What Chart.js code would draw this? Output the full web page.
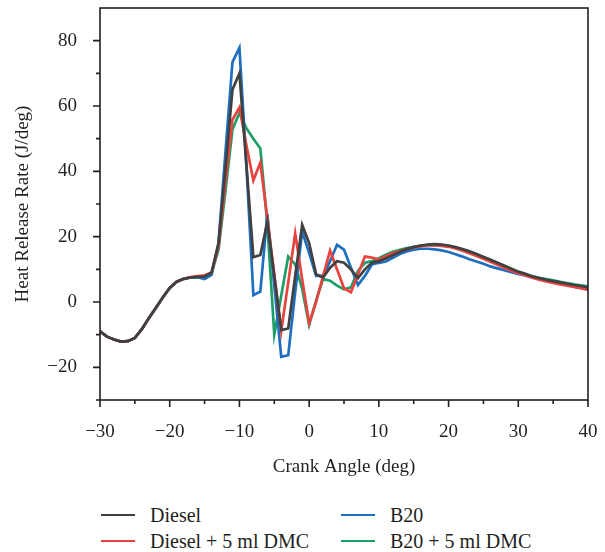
<!DOCTYPE html>
<html>
<head>
<meta charset="utf-8">
<script src="https://cdn.jsdelivr.net/npm/chart.js@4.4.0/dist/chart.umd.min.js"></script>
<style>
  body { margin: 0; background: #fff; }
  #wrap { position: relative; width: 605px; height: 552px; }
  #chart { position: absolute; left: 0; top: 0; }
  #legend {
    position: absolute; left: 101px; top: 502px;
    display: grid; grid-template-columns: 240px auto; grid-auto-rows: 26px;
    font: 20px "Liberation Serif", serif; color: #231f20;
  }
  .item { display: flex; align-items: center; white-space: nowrap; }
  .swatch { display: inline-block; width: 34px; height: 2px; margin-right: 15px; }
</style>
</head>
<body>
<div id="wrap">
  <canvas id="chart" width="605" height="490"></canvas>
  <div id="legend"></div>
</div>
<script>
const angles = [-30, -29, -28, -27, -26, -25, -24, -23, -22, -21, -20, -19, -18, -17, -16, -15, -14,
  -13, -12, -11, -10, -9, -8, -7, -6, -5, -4, -3, -2, -1, 0, 1, 2, 3, 4, 5, 6, 7, 8, 9, 10,
  11, 12, 13, 14, 15, 16, 17, 18, 19, 20, 21, 22, 23, 24, 25, 26, 27, 28, 29, 30,
  31, 32, 33, 34, 35, 36, 37, 38, 39, 40];

const diesel = [-9, -10.6, -11.5, -12.1, -12, -11, -8.3, -5, -1.8, 1.4, 4.3, 6.2, 7.1, 7.5, 7.7, 7.8, 9,
  18, 41, 65, 70, 42, 13.7, 14.4, 24.5, 8, -8.6, -8.1, 8, 23.6, 18, 8.5, 7.5, 10.5, 12.5, 12, 10, 7.3, 10, 12, 12.5,
  13.3, 14.3, 15.3, 16.2, 16.8, 17.3, 17.6, 17.7, 17.6, 17.3, 16.8, 16.2, 15.5, 14.7, 13.8, 12.9, 12, 11.1, 10.2, 9.3,
  8.6, 7.9, 7.3, 6.8, 6.4, 6, 5.6, 5.2, 4.9, 4.5];

const dieselDmc = [-9, -10.6, -11.5, -12.1, -12, -11, -8.3, -5, -1.8, 1.4, 4.3, 6.2, 7.1, 7.6, 7.9, 8.2, 9,
  17, 37, 55.8, 59.6, 48, 37.2, 42.7, 25.6, 8.5, -8.8, 6, 21, 7, -6.5, 0, 8, 15.7, 10, 4.2, 3, 8.5, 13.9, 13.6, 13,
  14, 15, 15.6, 16.2, 16.7, 17.1, 17.3, 17.4, 17.2, 16.9, 16.4, 15.7, 14.9, 14.1, 13.2, 12.3, 11.4, 10.5, 9.6, 8.8,
  8.1, 7.4, 6.8, 6.3, 5.8, 5.4, 5, 4.6, 4.2, 3.8];

const b20 = [-9, -10.6, -11.5, -12.1, -12, -11, -8.3, -5, -1.8, 1.4, 4.3, 6.2, 7.1, 7.5, 7.6, 7, 8.3,
  18, 46, 73.4, 77.8, 42, 2.1, 3.2, 27, 5, -16.8, -16.3, 3, 21.6, 15, 8, 8, 12.5, 17.5, 16, 10.5, 5.2, 8, 11.5, 12,
  12.4, 13.5, 14.7, 15.5, 16, 16.3, 16.3, 16.1, 15.8, 15.3, 14.6, 13.9, 13.1, 12.4, 11.7, 10.9, 10.3, 9.7, 9.1, 8.6,
  8.1, 7.6, 7.1, 6.6, 6.2, 5.7, 5.2, 4.7, 4.2, 3.8];

const b20Dmc = [-9, -10.6, -11.5, -12.1, -12, -11, -8.3, -5, -1.8, 1.4, 4.3, 6.2, 7.1, 7.5, 7.7, 7.8, 8.8,
  16, 34, 52.8, 57.9, 53.2, 50, 47, 24, -10, 2, 13.9, 11.5, 4, -7, 0.5, 7, 6.5, 5, 3.9, 4.5, 9.5, 12, 12.5, 13.4,
  14.5, 15.4, 16, 16.5, 16.9, 17.2, 17.4, 17.5, 17.4, 17.1, 16.6, 16, 15.4, 14.6, 13.8, 12.9, 12, 11.1, 10.1, 9.2,
  8.5, 7.9, 7.4, 7, 6.6, 6.2, 5.8, 5.4, 5.1, 4.8];

const seriesNames = ['Diesel', 'B20', 'Diesel + 5 ml DMC', 'B20 + 5 ml DMC'];
const seriesColors = ['#404040', '#1f6fc1', '#e8443f', '#1c9f66'];
const seriesValues = [diesel, b20, dieselDmc, b20Dmc];
const drawOrder = [0, 2, 1, 3];

const xTicks = [-30, -20, -10, 0, 10, 20, 30, 40];
const yTicks = [-20, 0, 20, 40, 60, 80];

const ink = '#231f20';
const serif = '"Liberation Serif", serif';

const frame = {
  id: 'frame',
  afterDatasetsDraw(chart) {
    const { ctx, chartArea: a, scales: { x, y } } = chart;
    ctx.save();
    ctx.strokeStyle = ink;
    ctx.lineWidth = 1.6;
    ctx.strokeRect(a.left, a.top, a.right - a.left, a.bottom - a.top);
    ctx.beginPath();
    x.ticks.forEach(t => {
      const px = x.getPixelForValue(t.value);
      const len = xTicks.includes(t.value) ? 7 : 4;
      ctx.moveTo(px, a.bottom);
      ctx.lineTo(px, a.bottom + len);
    });
    y.ticks.forEach(t => {
      if (t.value >= 90) return;
      const py = y.getPixelForValue(t.value);
      const len = yTicks.includes(t.value) ? 7 : 4;
      ctx.moveTo(a.left, py);
      ctx.lineTo(a.left - len, py);
    });
    ctx.stroke();
    ctx.restore();
  }
};

const datasets = drawOrder.map(i => ({
  label: seriesNames[i],
  data: angles.map((a, k) => ({ x: a, y: seriesValues[i][k] })),
  borderColor: seriesColors[i],
  borderWidth: 2.7,
  pointRadius: 0,
  tension: 0,
  fill: false
}));

new Chart(document.getElementById('chart'), {
  type: 'line',
  data: { datasets },
  plugins: [frame],
  options: {
    responsive: false,
    animation: false,
    layout: { padding: { left: 0, top: 8, right: 17, bottom: 10 } },
    plugins: { legend: { display: false }, tooltip: { enabled: false } },
    scales: {
      x: {
        type: 'linear', min: -30, max: 40,
        grid: { display: false, drawTicks: false },
        border: { display: false },
        ticks: {
          stepSize: 5, padding: 21, color: ink, maxRotation: 0,
          font: { family: serif, size: 19 },
          callback: v => xTicks.includes(v) ? String(v).replace('-', '\u2212') : ''
        },
        title: { display: true, text: 'Crank Angle (deg)', color: ink, font: { family: serif, size: 19 }, padding: { top: 0, bottom: 2 } },
        afterFit: s => { s.height = 80; s.paddingLeft = 0; s.paddingRight = 0; }
      },
      y: {
        min: -30, max: 90,
        grid: { display: false, drawTicks: false },
        border: { display: false },
        ticks: {
          stepSize: 10, padding: 23, color: ink,
          font: { family: serif, size: 19 },
          callback: v => yTicks.includes(v) ? String(v).replace('-', '\u2212') : ''
        },
        title: { display: true, text: 'Heat Release Rate (J/deg)', color: ink, font: { family: serif, size: 19 }, padding: { top: 12, bottom: 0 } },
        afterFit: s => { s.width = 100; s.paddingTop = 0; s.paddingBottom = 0; }
      }
    }
  }
});

const legend = document.getElementById('legend');
[0, 1, 2, 3].forEach(i => {
  const item = document.createElement('div');
  item.className = 'item';
  const sw = document.createElement('span');
  sw.className = 'swatch';
  sw.style.background = seriesColors[i];
  item.appendChild(sw);
  item.appendChild(document.createTextNode(seriesNames[i]));
  legend.appendChild(item);
});
</script>
</body>
</html>
